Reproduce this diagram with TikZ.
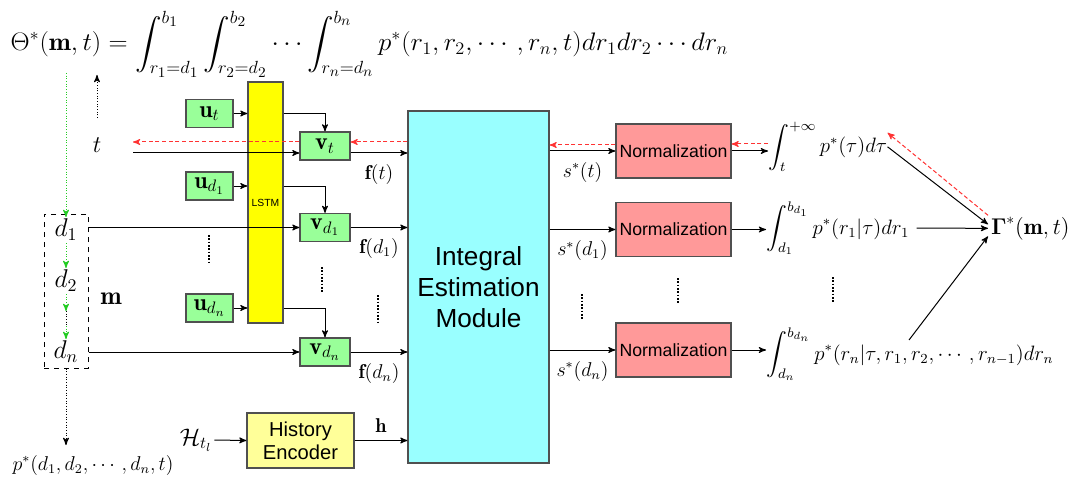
\documentclass[tikz,border=0pt]{standalone}
\usepackage{amsmath,amssymb,bm,graphicx}
\usepackage{fontspec}
\newfontfamily\arial{Liberation Sans}
\usepackage{tikz}
\usetikzlibrary{arrows,positioning,calc}

\definecolor{boxgreen}{HTML}{99FF99}
\definecolor{boxcyan}{HTML}{99FFFF}
\definecolor{boxred}{HTML}{FF9999}
\definecolor{boxyellow}{HTML}{FFFF99}
\definecolor{lstmyellow}{HTML}{FFFF00}
\definecolor{edgegray}{HTML}{505050}
\definecolor{backred}{HTML}{FF3333}
\definecolor{backgreen}{HTML}{22CC22}

\tikzset{
  blk/.style = {draw = edgegray, line width = 0.7pt, inner sep = 0pt, align = center},
  ubox/.style = {blk, fill = boxgreen, minimum width = 28.2pt, minimum height = 16.8pt, font = \Large},
  vbox/.style = {blk, fill = boxgreen, minimum width = 30pt, minimum height = 16.8pt, font = \Large},
  normbox/.style = {blk, fill = boxred, minimum width = 69pt, minimum height = 32.4pt, font = \arial\fontsize{10.6}{12}\selectfont},
  lbl/.style = {inner sep = 1pt, font = \Large},
  sml/.style = {font = \large},
  backarrow/.style = {->, backred, dash pattern = on 2.5pt off 1.5pt},
  fwdgreen/.style = {->, backgreen, densely dotted},
  dotsty/.style = {densely dotted, line width = 1pt}
}

\begin{document}
\begin{tikzpicture}[x = 0.6pt, y = -0.6pt, >= stealth', line width = 0.6pt]
\useasboundingbox (0,0) rectangle (1070,487);
% formula on top
\node[anchor = base west, inner sep = 0pt, font = \LARGE] (theta) at (10,51) {\scalebox{0.92}[0.88]{$\displaystyle \Theta^*(\mathbf{m},t)=\int_{r_1=d_1}^{b_1}\int_{r_2=d_2}^{b_2}\cdots\int_{r_n=d_n}^{b_n} p^*(r_1,r_2,\cdots,r_n,t)dr_1dr_2\cdots dr_n$}};
% left column
\node[lbl] (t) at (97,145) {$t$};
\coordinate (tlow) at (97,118);
\coordinate (tup) at (97,75);
\draw[->, densely dotted] (tlow) -- (tup);
\node[draw, dashed, minimum width = 26.4pt, minimum height = 92.4pt] (mbox) at (66,291) {};
\node[lbl] (d1) at (66,230) {\scalebox{1.07}{$d_1$}};
\node[lbl] (d2) at (66,281) {\scalebox{1.07}{$d_2$}};
\node[lbl] (dn) at (66,352) {\scalebox{1.07}{$d_n$}};
\node[lbl] (m) at (111,299) {\scalebox{1.07}{$\mathbf{m}$}};
\coordinate (gtop) at (66,73);
\coordinate (ga) at (66,311);
\coordinate (gb) at (66,326);
\draw[fwdgreen] (gtop) -- (d1.north);
\draw[fwdgreen] (d1.south) -- (d2.north);
\draw[fwdgreen] (d2.south) -- (ga);
\draw[densely dotted] (ga) -- (gb);
\draw[fwdgreen] (gb) -- (dn.north);
\node[sml] (pd) at (93,465) {$p^*(d_1,d_2,\cdots,d_n,t)$};
\coordinate (pdtop) at (66,445);
\draw[->, densely dotted] (mbox.south) -- (pdtop);
% LSTM part
\node[blk, fill = lstmyellow, minimum width = 21pt, minimum height = 144.6pt, font = \arial\fontsize{6.2}{7}\selectfont] (lstm) at (265.5,202.5) {LSTM};
\node[ubox] (ut) at (209.5,113.5) {$\mathbf{u}_t$};
\node[ubox] (ud1) at (209.5,186) {$\mathbf{u}_{d_1}$};
\node[ubox] (udn) at (209.5,308) {$\mathbf{u}_{d_n}$};
\node[vbox] (vt) at (325,146) {$\mathbf{v}_t$};
\node[vbox] (vd1) at (325,227.5) {$\mathbf{v}_{d_1}$};
\node[vbox] (vdn) at (325,352) {$\mathbf{v}_{d_n}$};
\foreach \u/\v in {ut/vt, ud1/vd1, udn/vdn}
{
  \draw[->] (\u.east) -- (lstm.west |- \u.east);
  \draw[->] (lstm.east |- \u.east) -| (\v.north);
}
\draw[dotsty] (209,235) -- (209,262);
\draw[dotsty] (322,267) -- (322,293);
\draw[dotsty] (378,295) -- (378,323);
% main module
\node[blk, fill = boxcyan, minimum width = 84.6pt, minimum height = 211.2pt, font = \arial\fontsize{15.7}{18.6}\selectfont] (iem) at (478.5,287) {Integral\\Estimation\\Module};
\node[blk, fill = boxyellow, minimum width = 64.2pt, minimum height = 33pt, font = \arial\fontsize{12.1}{13.8}\selectfont] (hist) at (300.5,440.5) {History\\Encoder};
\node[lbl] (ht) at (196,440) {$\mathcal{H}_{t_l}$};
\coordinate (tin) at (133,153);
\coordinate (tback) at (133,142);
\draw[->] (tin) -- (vt.west |- tin);
\draw[->] (vt.east |- tin) -- (iem.west |- tin) node[sml, midway, below = 3pt] {$\mathbf{f}(t)$};
\draw[->] (mbox.east |- vd1) -- (vd1.west);
\draw[->] (vd1.east) -- (vd1.east -| iem.west) node[sml, midway, below = 3pt] {$\mathbf{f}(d_1)$};
\draw[->] (mbox.east |- vdn) -- (vdn.west);
\draw[->] (vdn.east) -- (vdn.east -| iem.west) node[sml, midway, below = 3pt] {$\mathbf{f}(d_n)$};
\draw[backarrow] (iem.west |- tback) -- (vt.east |- tback);
\draw[backarrow] (vt.west |- tback) -- (tback);
\draw[->] (ht.east) -- (hist.west);
\draw[->] (hist.east) -- (hist.east -| iem.west) node[sml, midway, above = 1pt] {$\mathbf{h}$};
% normalization
\node[normbox] (n1) at (673.5,151) {Normalization};
\node[normbox] (n2) at (673.5,229.5) {Normalization};
\node[normbox] (n3) at (673.5,350) {Normalization};
\draw[->] (iem.east |- n1) -- (n1.west) node[sml, midway, below = 3pt] {$s^*(t)$};
\draw[->] (iem.east |- n2) -- (n2.west) node[sml, midway, below = 3pt] {$s^*(d_1)$};
\draw[->] (iem.east |- n3) -- (n3.west) node[sml, midway, below = 3pt] {$s^*(d_n)$};
\draw[backarrow] ($(n1.west)+(0,-6)$) -- ($(n1.west -| iem.east)+(0,-6)$);
\draw[dotsty] (582,294) -- (582,320);
\draw[dotsty] (678,278) -- (678,303);
% integrals
\node[anchor = base west, inner sep = 0pt, sml] (e1) at (768,153) {\scalebox{1.04}{$\displaystyle\int_t^{+\infty} p^*(\tau)d\tau$}};
\node[anchor = base west, inner sep = 0pt, sml] (e2) at (766,234) {\scalebox{1.04}{$\displaystyle\int_{d_1}^{b_{d_1}} p^*(r_1|\tau)dr_1$}};
\node[anchor = base west, inner sep = 0pt, sml] (e3) at (766,360) {\scalebox{1.04}{$\displaystyle\int_{d_n}^{b_{d_n}} p^*(r_n|\tau,r_1,r_2,\cdots,r_{n-1})dr_n$}};
\node[anchor = base west, inner sep = 1.5pt, font = \Large] (gam) at (988,234) {\scalebox{0.95}{$\bm{\Gamma}^*(\mathbf{m},t)$}};
\draw[->] (n1.east) -- (n1.east -| e1.west);
\draw[->] (n2.east) -- (n2.east -| e2.west);
\draw[->] (n3.east) -- (n3.east -| e3.west);
\draw[backarrow] ($(n1.east -| e1.west)+(0,-7)$) -- ($(n1.east)+(0,-7)$);
\draw[dotsty] (833,277) -- (833,303);
\coordinate (e3up) at ($(e3.base west)+(143,-20)$);
\draw[->] (e1.east) -- ($(gam.west)+(0,-4)$);
\draw[->, shorten <= 4pt] (e2.east) -- (gam.west);
\draw[->] (e3up) -- ($(gam.west)+(0,8)$);
\draw[backarrow] ($(gam.west)+(0,-13)$) -- ($(e1.east)+(0,-14)$);
\end{tikzpicture}
\end{document}
